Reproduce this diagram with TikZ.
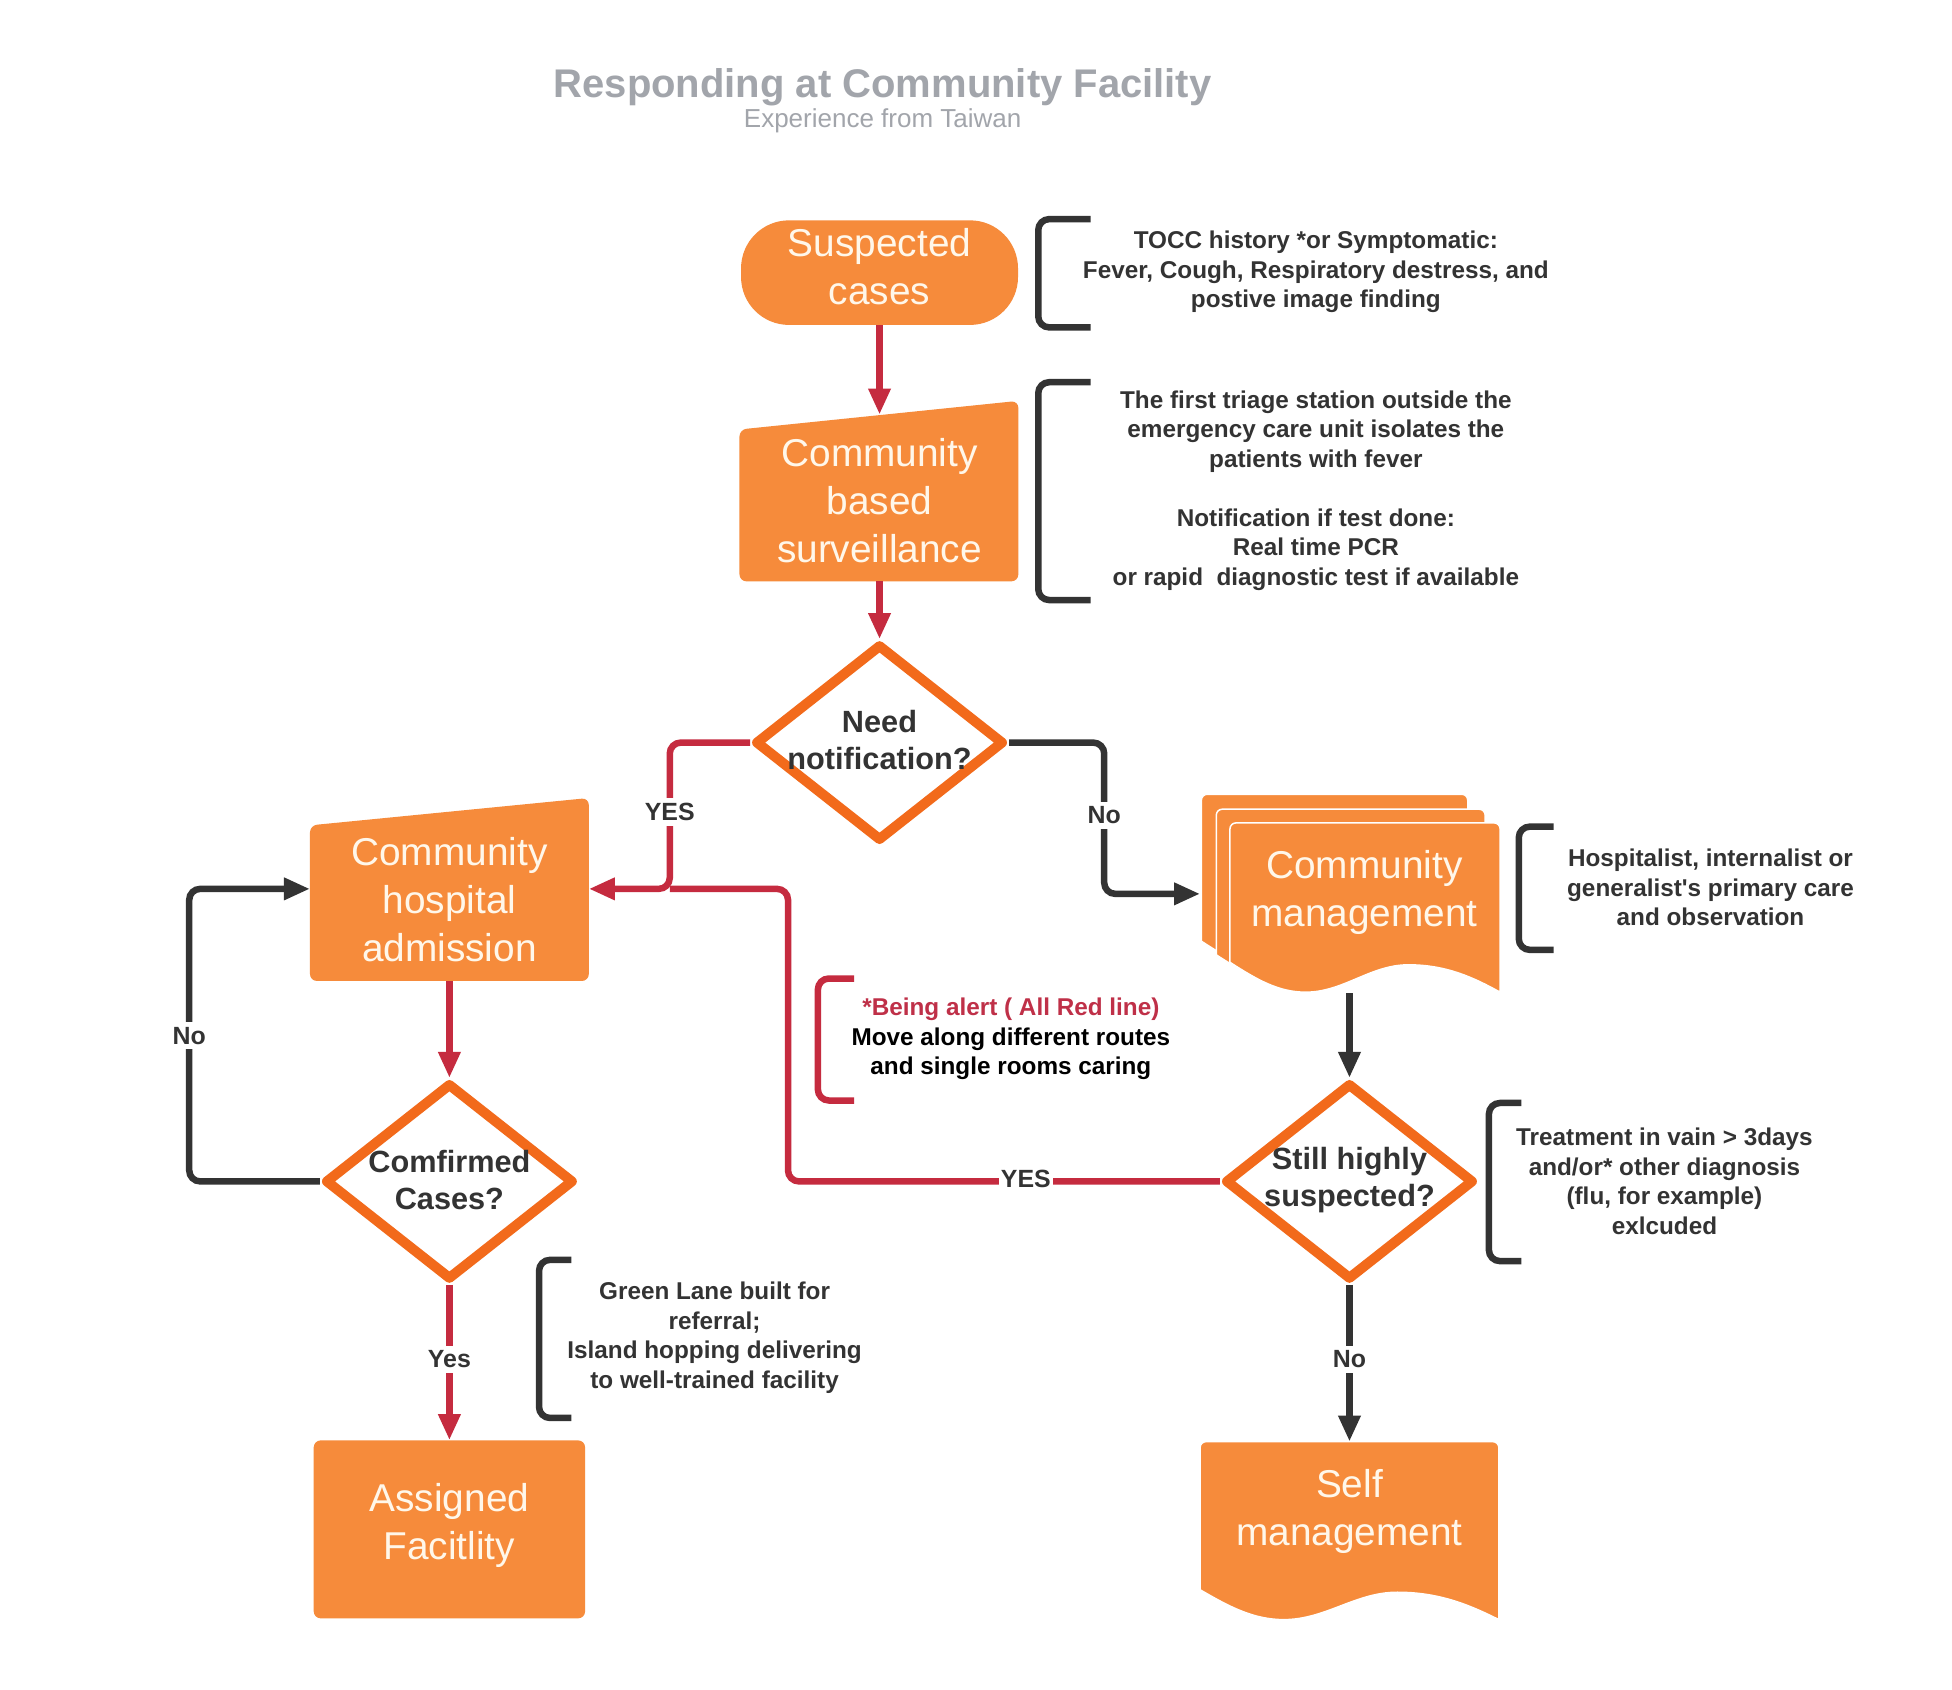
\documentclass[tikz,border=0pt]{standalone}
\usepackage{fontspec}
\setmainfont{Liberation Sans}
\usetikzlibrary{arrows.meta,shapes.geometric,calc}
\definecolor{myorange}{HTML}{F68B3B}
\definecolor{dorange}{HTML}{F26A1B}
\definecolor{myred}{HTML}{C52B3F}
\definecolor{mydark}{HTML}{333333}
\definecolor{mygray}{HTML}{A2A5AB}
\definecolor{mycream}{HTML}{FFF7EA}
\definecolor{alertred}{HTML}{BF3048}
\newcommand\fs[2]{\fontsize{#1}{#2}\selectfont}
\newcommand\docshape[4]{%
  \filldraw[fill=myorange, draw=white, line width=1.5pt]
    (#1,{#2+#4}) [rounded corners=6pt] -- (#1,#2) -- ({#1+#3},#2) [sharp corners] -- ({#1+#3},{#2+#4+24})
    .. controls ({#1+0.9*#3},{#2+#4+12}) and ({#1+0.8*#3},{#2+#4+2}) .. ({#1+0.66*#3},{#2+#4+2})
    .. controls ({#1+0.52*#3},{#2+#4+2}) and ({#1+0.42*#3},{#2+#4+24}) .. ({#1+0.28*#3},{#2+#4+24})
    .. controls ({#1+0.18*#3},{#2+#4+24}) and ({#1+0.1*#3},{#2+#4+14}) .. (#1,{#2+#4}) -- cycle;}
\tikzset{
  redline/.style={draw=myred, line width=6.5pt},
  darkline/.style={draw=mydark, line width=6.5pt},
  arr/.style={-{Triangle[length=26pt,width=21pt]}},
  nodetext/.style={align=center, text=mycream, font=\fs{38.8}{48}, inner sep=0pt},
  invbox/.style={rectangle, draw=none, inner sep=0pt, outer sep=0pt},
  decision/.style={diamond, draw=dorange, line width=10pt, fill=white, minimum width=249pt,
    minimum height=197pt, inner sep=0pt, line join=round},
  dtext/.style={align=center, text=mydark, font=\bfseries\fs{30.7}{37.4}, inner sep=0pt},
  annot/.style={align=center, text=mydark, font=\bfseries\fs{24.3}{29.5}, inner sep=0pt},
  lbl/.style={fill=white, text=mydark, font=\bfseries\fs{24.9}{28}, inner xsep=2pt, inner ysep=5pt},
  brk/.style={draw=mydark, line width=6.5pt, rounded corners=11pt},
}
\begin{document}
\begin{tikzpicture}[x=1.245pt, y=-1.245pt]
\useasboundingbox (0,0) rectangle (1568,1357);
\fill[white] (0,0) rectangle (1568,1357);

% title
\node[font=\bfseries\fs{40}{46}, text=mygray, inner sep=0pt] (title) at (709,70) {Responding at Community Facility};
\node[font=\fs{26}{30}, text=mygray, inner sep=0pt] (subtitle) at (709,97) {Experience from Taiwan};

% shapes
\node[fill=myorange, rounded corners=48pt, minimum width=277pt, minimum height=104.6pt, inner sep=0pt] (susp) at (706.5,219) {};
\node[nodetext] (suspt) at (706.5,214) {Suspected\\cases};

\fill[myorange, rounded corners=7pt] (594,467) -- (594,345) -- (818,322) -- (818,467) -- cycle;
\node[invbox, minimum width=278.9pt, minimum height=166.8pt] (surv) at (706.5,400) {};
\node[nodetext] (survt) at (706.5,402.5) {Community\\based\\surveillance};

\node[decision] (need) at (706.5,596.5) {};
\node[dtext] (needt) at (706.5,594.5) {Need\\notification?};

\fill[myorange, rounded corners=7pt] (249,788) -- (249,663) -- (473,641) -- (473,788) -- cycle;
\node[invbox, minimum width=278.9pt, minimum height=169.3pt] (hosp) at (361,720) {};
\node[nodetext] (hospt) at (361,722.5) {Community\\hospital\\admission};

\docshape{965}{638}{214}{118}
\docshape{977}{650}{216}{117}
\docshape{988}{661}{217}{112}
\node[invbox, minimum width=298.8pt, minimum height=199.2pt] (cm) at (1084,718) {};
\node[nodetext] (cmt) at (1096,716.5) {Community\\management};

\node[decision] (conf) at (361,949) {};
\node[dtext] (conft) at (361,948) {Comfirmed\\Cases?};

\node[decision] (still) at (1084,949) {};
\node[dtext] (stillt) at (1084,948) {Still highly\\suspected?};

\node[fill=myorange, rounded corners=7pt, minimum width=271.4pt, minimum height=178pt, inner sep=0pt] (assigned) at (361,1228.5) {};
\node[nodetext] (assignedt) at (361,1225) {Assigned\\Facitlity};

\docshape{964}{1158}{240}{119}
\node[invbox, minimum width=298.8pt, minimum height=176.8pt] (self) at (1084,1229) {};
\node[nodetext] (selft) at (1084,1214.5) {Self\\management};

% brackets and annotations
\draw[brk] (876,176) -- (834,176) -- (834,263) -- (876,263);
\node[annot] (n1) at (1057,218.5) {TOCC history *or Symptomatic:\\Fever, Cough, Respiratory destress, and\\postive image finding};

\draw[brk] (876,307) -- (834,307) -- (834,482) -- (876,482);
\node[annot] (n2) at (1057,394) {The first triage station outside the\\emergency care unit isolates the\\patients with fever\\~\\Notification if test done:\\Real time PCR\\or rapid\ \ diagnostic test if available};

\draw[brk] (1248,664) -- (1220,664) -- (1220,763) -- (1248,763);
\node[annot] (n3) at (1374,713) {Hospitalist, internalist or\\generalist\textquotesingle s primary care\\and observation};

\draw[brk, draw=myred] (686,786) -- (657,786) -- (657,884) -- (686,884);
\node[annot, text=black] (n4) at (812,834.5) {\textcolor{alertred}{*Being alert ( All Red line)}\\Move along different routes\\and single rooms caring};

\draw[brk] (459,1012) -- (433,1012) -- (433,1139) -- (459,1139);
\node[annot] (n5) at (574,1074.5) {Green Lane built for\\referral;\\Island hopping delivering\\to well-trained facility};

\draw[brk] (1222,886) -- (1196,886) -- (1196,1013) -- (1222,1013);
\node[annot] (n6) at (1337,949) {Treatment in vain > 3days\\and/or* other diagnosis\\(flu, for example)\\exlcuded};

% connectors
\coordinate (jn) at (538,714);
\coordinate (jn2) at (633,714);
\coordinate (nocorner) at (887,718);
\coordinate (nocorner2) at (152,714);

\draw[redline, arr] (susp.south) -- (surv.north);
\draw[redline, arr] (surv.south) -- (need.north);
\draw[redline, rounded corners=11pt] (still.west) -| (jn2) -- (jn);
\draw[redline, arr, rounded corners=11pt] (need.west) -| (jn) -- (hosp.east |- jn);
\draw[darkline, arr, rounded corners=11pt] (need.east) -| (nocorner) -- (cm.west);
\draw[darkline, arr] (cm.south) -- (still.north);
\draw[redline, arr] (hosp.south) -- (conf.north);
\draw[darkline, arr, rounded corners=11pt] (conf.west) -| (nocorner2) -- (hosp.west |- nocorner2);
\draw[redline, arr] (conf.south) -- (assigned.north);
\draw[darkline, arr] (still.south) -- (self.north);

% labels
\node[lbl] (lyes1) at (538,652) {YES};
\node[lbl] (lno1) at (887,655) {No};
\node[lbl] (lno2) at (152,832) {No};
\node[lbl] (lyes2) at (824,947) {YES};
\node[lbl] (lyes3) at (361,1092) {Yes};
\node[lbl] (lno3) at (1084,1092) {No};
\end{tikzpicture}
\end{document}
